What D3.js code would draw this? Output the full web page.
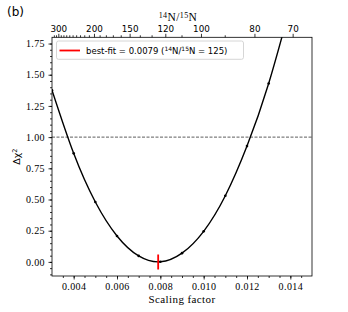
<!DOCTYPE html>
<html>
<head>
<meta charset="utf-8">
<script src="https://cdn.jsdelivr.net/npm/d3@7"></script>
<style>
  body { margin: 0; background: #fff; }
  .serif { font-family: "Liberation Serif", serif; letter-spacing: 0.4px; }
  .sans { font-family: "DejaVu Sans", sans-serif; }
</style>
</head>
<body>
<div id="chart"></div>
<script>
// scaling factor grid and the chi-square difference at each point
const scaleFactor = [0.003, 0.004, 0.005, 0.006, 0.007, 0.008, 0.009, 0.010, 0.011, 0.012, 0.013, 0.014];
const deltaChi2 = [1.376, 0.870, 0.480, 0.208, 0.048, 0.001, 0.070, 0.245, 0.530, 0.928, 1.430, 2.050];

const bestFit = 0.0079;
const bestRatio = 125;
const ratioConst = bestFit * bestRatio; // 14N/15N = ratioConst / scaling factor

const xTicks = [0.004, 0.006, 0.008, 0.010, 0.012, 0.014];
const yTicks = [0, 0.25, 0.5, 0.75, 1.0, 1.25, 1.5, 1.75];
const ratioTicks = [300, 200, 150, 120, 100, 80, 70];
const ratioMinor = [320, 310, 290, 280, 270, 260, 250, 240, 230, 220, 210, 190, 180, 170, 160, 140, 130, 110, 90];

const W = 348, H = 312;
const margin = {top: 37.3, right: 36, bottom: 36, left: 52};
const width = W - margin.left - margin.right;
const height = H - margin.top - margin.bottom;

const svg = d3.select("#chart").append("svg")
    .attr("width", W)
    .attr("height", H);

const g = svg.append("g")
    .attr("transform", `translate(${margin.left},${margin.top})`);

const x = d3.scaleLinear().domain([0.003, 0.015]).range([0, width]);
const y = d3.scaleLinear().domain([-0.113, 1.80]).range([height, 0]);

g.append("clipPath").attr("id", "clip")
  .append("rect").attr("width", width).attr("height", height);

// dashed reference line at 1
g.append("line")
    .attr("x1", 0).attr("x2", width)
    .attr("y1", y(1)).attr("y2", y(1))
    .attr("stroke", "#333")
    .attr("stroke-width", 0.8)
    .attr("stroke-dasharray", "3,1.5");

const plot = g.append("g").attr("clip-path", "url(#clip)");

const line = d3.line()
    .x((d, i) => x(scaleFactor[i]))
    .y(d => y(d))
    .curve(d3.curveNatural);

plot.append("path")
    .datum(deltaChi2)
    .attr("d", line)
    .attr("fill", "none")
    .attr("stroke", "#000")
    .attr("stroke-width", 1.4);

plot.selectAll(".pt")
    .data(deltaChi2)
    .enter()
    .append("circle")
    .attr("class", "pt")
    .attr("cx", (d, i) => x(scaleFactor[i]))
    .attr("cy", d => y(d))
    .attr("r", 1.3)
    .attr("fill", "#000");

// best-fit marker
plot.append("line")
    .attr("x1", x(bestFit)).attr("x2", x(bestFit))
    .attr("y1", y(-0.06)).attr("y2", y(0.06))
    .attr("stroke", "red")
    .attr("stroke-width", 1.8);

// axes
function styleAxis(sel, cls, size) {
    sel.attr("font-family", null);
    sel.select(".domain").remove();
    sel.selectAll("text").attr("class", cls).attr("font-size", size).attr("fill", "#000");
    sel.selectAll("line").attr("stroke", "#000").attr("stroke-width", 0.8);
}

const xAxis = g.append("g")
    .attr("transform", `translate(0,${height})`)
    .call(d3.axisBottom(x).tickValues(xTicks).tickFormat(d3.format(".3f")).tickSize(3.5).tickPadding(3));
styleAxis(xAxis, "serif", "10px");

const xMinor = g.append("g")
    .attr("transform", `translate(0,${height})`)
    .call(d3.axisBottom(x).tickValues(d3.range(0.0035, 0.015, 0.0005)).tickFormat("").tickSize(2));
styleAxis(xMinor, "serif", "10px");

const yAxis = g.append("g")
    .call(d3.axisLeft(y).tickValues(yTicks).tickFormat(d3.format(".2f")).tickSize(3.5).tickPadding(3.5));
styleAxis(yAxis, "serif", "10px");

const yMinor = g.append("g")
    .call(d3.axisLeft(y).tickValues(d3.range(-0.1, 1.8, 0.05)).tickFormat("").tickSize(2));
styleAxis(yMinor, "serif", "10px");

// top axis in 14N/15N
const topAxis = g.append("g")
    .call(d3.axisTop(x).tickValues(ratioTicks.map(r => ratioConst / r))
        .tickFormat((d, i) => ratioTicks[i]).tickSize(3.5).tickPadding(2));
styleAxis(topAxis, "sans", "8.8px");

const topMinor = g.append("g")
    .call(d3.axisTop(x).tickValues(ratioMinor.map(r => ratioConst / r)).tickFormat("").tickSize(2));
styleAxis(topMinor, "sans", "8.8px");

// frame
g.append("rect")
    .attr("width", width).attr("height", height)
    .attr("fill", "none")
    .attr("stroke", "#000")
    .attr("stroke-width", 0.8);

// legend
const leg = g.append("g").attr("transform", "translate(4.5,3.7)");
leg.append("rect")
    .attr("width", 187).attr("height", 18.3)
    .attr("rx", 2)
    .attr("fill", "#fff")
    .attr("fill-opacity", 0.8)
    .attr("stroke", "#ccc")
    .attr("stroke-width", 0.8);
leg.append("line")
    .attr("x1", 3).attr("x2", 23.5)
    .attr("y1", 9.5).attr("y2", 9.5)
    .attr("stroke", "red")
    .attr("stroke-width", 1.8);
const legText = leg.append("text")
    .attr("class", "sans")
    .attr("x", 29.5).attr("y", 12.6)
    .attr("font-size", "8.5px");
legText.append("tspan").text(`best-fit = ${bestFit} (`);
legText.append("tspan").attr("dy", -3).attr("font-size", "6px").text("14");
legText.append("tspan").attr("dy", 3).text("N/");
legText.append("tspan").attr("dy", -3).attr("font-size", "6px").text("15");
legText.append("tspan").attr("dy", 3).text(`N = ${bestRatio})`);

// axis titles
svg.append("text")
    .attr("class", "serif")
    .attr("x", margin.left + width / 2).attr("y", 302.5)
    .attr("text-anchor", "middle")
    .attr("font-size", "11px")
    .text("Scaling factor");

const topTitle = svg.append("text")
    .attr("class", "serif")
    .attr("x", margin.left + width / 2 - 4).attr("y", 21)
    .attr("text-anchor", "middle")
    .attr("font-size", "11.5px");
topTitle.append("tspan").attr("dy", -3.5).attr("font-size", "8px").text("14");
topTitle.append("tspan").attr("dy", 3.5).text("N/");
topTitle.append("tspan").attr("dy", -3.5).attr("font-size", "8px").text("15");
topTitle.append("tspan").attr("dy", 3.5).text("N");

const yTitle = svg.append("text")
    .attr("class", "sans")
    .attr("transform", `translate(20,${margin.top + height / 2}) rotate(-90)`)
    .attr("text-anchor", "middle")
    .attr("font-size", "9.5px");
yTitle.append("tspan").text("Δχ");
yTitle.append("tspan").attr("dy", -3.5).attr("font-size", "6.5px").text("2");

svg.append("text")
    .attr("class", "sans")
    .attr("x", 7).attr("y", 16)
    .attr("font-size", "12px")
    .text("(b)");
</script>
</body>
</html>
